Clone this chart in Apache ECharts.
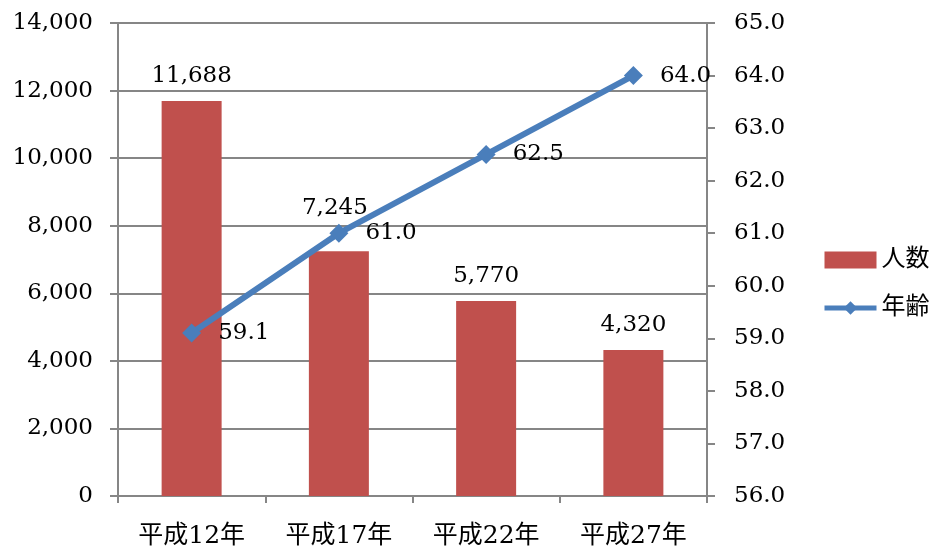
<!DOCTYPE html>
<html>
<head>
<meta charset="utf-8">
<script src="https://cdn.jsdelivr.net/npm/echarts@6/dist/echarts.min.js"></script>
<style>
  html, body { margin: 0; padding: 0; background: #fff; }
  #chart { width: 935px; height: 549px; }
</style>
</head>
<body>
<div id="chart"></div>
<script>
// Census years and the two measured series
const categories = ['平成12年', '平成17年', '平成22年', '平成27年'];
const peopleCount = [11688, 7245, 5770, 4320];
const averageAge = [59.1, 61.0, 62.5, 64.0];

const FONT = "'DejaVu Serif', 'Noto Sans CJK JP', serif";
const GRAY = '#868686';
const RED = '#C0504D';
const BLUE = '#4A7EBB';

// The 平成17年 count label is lifted so it clears the age line
const barData = peopleCount.map((v, i) => i === 1
  ? { value: v, label: { offset: [-4, -18] } }
  : v);

const chart = echarts.init(document.getElementById('chart'));
chart.setOption({
  animation: false,
  backgroundColor: '#fff',
  textStyle: { fontFamily: FONT, color: '#000' },
  grid: { left: 118, right: 228, top: 23, bottom: 52 },
  legend: {
    orient: 'vertical',
    left: 817,
    top: 243,
    itemWidth: 52,
    itemHeight: 17,
    itemGap: 24,
    textStyle: { fontFamily: FONT, fontSize: 24, color: '#000' },
    data: [
      { name: '人数', icon: 'rect' },
      { name: '年齢', lineStyle: { width: 5, color: BLUE } }
    ]
  },
  xAxis: {
    type: 'category',
    data: categories,
    axisLine: { lineStyle: { color: GRAY, width: 2 } },
    axisTick: { show: true, length: 7, lineStyle: { color: GRAY, width: 2 } },
    axisLabel: { fontFamily: FONT, fontSize: 25, color: '#000', margin: 28 }
  },
  yAxis: [
    {
      type: 'value',
      min: 0, max: 14000, interval: 2000,
      axisLine: { show: true, lineStyle: { color: GRAY, width: 2 } },
      axisTick: { show: true, length: 8, lineStyle: { color: GRAY, width: 2 } },
      splitLine: { lineStyle: { color: GRAY, width: 2 } },
      axisLabel: {
        fontFamily: FONT, fontSize: 23, color: '#000', margin: 25,
        formatter: v => v.toLocaleString('en-US')
      }
    },
    {
      type: 'value',
      min: 56, max: 65, interval: 1,
      position: 'right',
      axisLine: { show: true, lineStyle: { color: GRAY, width: 2 } },
      axisTick: { show: true, length: 8, lineStyle: { color: GRAY, width: 2 } },
      splitLine: { show: false },
      axisLabel: {
        fontFamily: FONT, fontSize: 23, color: '#000', margin: 27,
        formatter: v => v.toFixed(1)
      }
    }
  ],
  series: [
    {
      name: '人数',
      type: 'bar',
      data: barData,
      barWidth: 60,
      itemStyle: { color: RED },
      label: {
        show: true, position: 'top', distance: 14,
        fontFamily: FONT, fontSize: 23, color: '#000',
        formatter: p => p.value.toLocaleString('en-US')
      }
    },
    {
      name: '年齢',
      type: 'line',
      yAxisIndex: 1,
      data: averageAge,
      symbol: 'diamond',
      symbolSize: 19,
      lineStyle: { color: BLUE, width: 6 },
      itemStyle: { color: BLUE },
      label: {
        show: true, position: 'right', distance: 17,
        fontFamily: FONT, fontSize: 23, color: '#000',
        formatter: p => p.value.toFixed(1)
      }
    }
  ]
});
</script>
</body>
</html>
